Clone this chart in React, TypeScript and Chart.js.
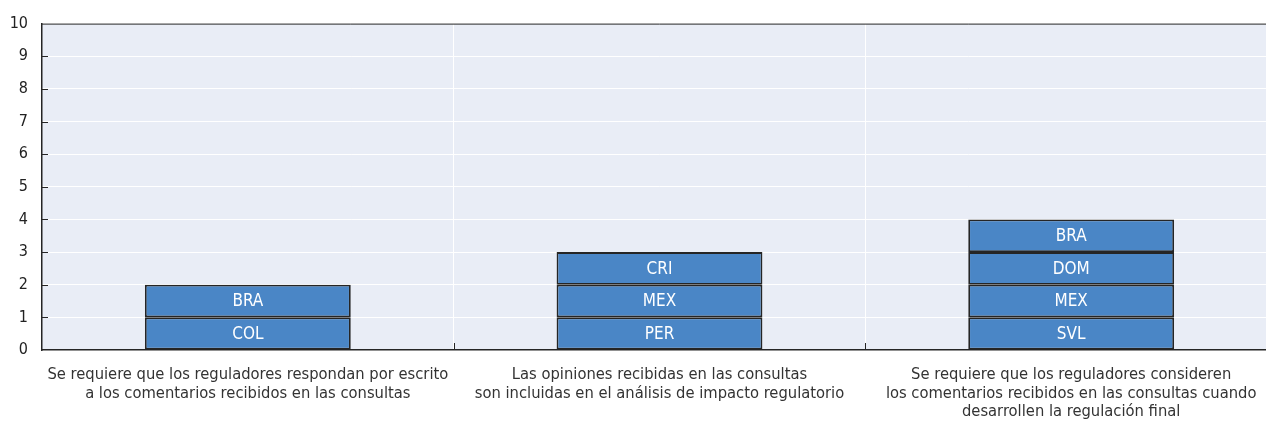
import React, { useEffect, useRef } from "react";
import { Chart, registerables } from "chart.js";

Chart.register(...registerables);

const categories: string[][] = [
  ["Se requiere que los reguladores respondan por escrito", "a los comentarios recibidos en las consultas"],
  ["Las opiniones recibidas en las consultas", "son incluidas en el análisis de impacto regulatorio"],
  ["Se requiere que los reguladores consideren", "los comentarios recibidos en las consultas cuando", "desarrollen la regulación final"],
];

const level1Values: (number | null)[] = [1, 1, 1];
const level1Labels: (string | null)[] = ["COL", "PER", "SVL"];
const level2Values: (number | null)[] = [1, 1, 1];
const level2Labels: (string | null)[] = ["BRA", "MEX", "MEX"];
const level3Values: (number | null)[] = [null, 1, 1];
const level3Labels: (string | null)[] = [null, "CRI", "DOM"];
const level4Values: (number | null)[] = [null, null, 1];
const level4Labels: (string | null)[] = [null, null, "BRA"];

const yTicks = [0, 1, 2, 3, 4, 5, 6, 7, 8, 9, 10];

const FONT = '"Liberation Sans Narrow", "Arial Narrow", "DejaVu Sans Condensed", sans-serif';
const BAR = "#4a86c6";
const EDGE = "#252525";

const segmentLabels = [level1Labels, level2Labels, level3Labels, level4Labels];

const bgPlugin = {
  id: "bgPlugin",
  beforeDraw(chart: any) {
    const { ctx, chartArea } = chart;
    ctx.save();
    ctx.fillStyle = "#e9edf6";
    ctx.fillRect(chartArea.left, chartArea.top, chartArea.right - chartArea.left, chartArea.bottom - chartArea.top);
    ctx.restore();
  },
  afterDraw(chart: any) {
    const { ctx, chartArea, scales } = chart;
    ctx.save();
    ctx.strokeStyle = EDGE;
    ctx.lineWidth = 1;
    ctx.beginPath();
    ctx.moveTo(chartArea.left, chartArea.top + 0.5);
    ctx.lineTo(chartArea.right, chartArea.top + 0.5);
    ctx.stroke();
    yTicks.forEach((v) => {
      if (v === 0 || v === 10) return;
      const y = Math.round(scales.y.getPixelForValue(v)) + 0.5;
      ctx.beginPath();
      ctx.moveTo(chartArea.left, y);
      ctx.lineTo(chartArea.left + 6, y);
      ctx.stroke();
    });
    const n = categories.length;
    for (let i = 1; i < n; i++) {
      const x = Math.round((scales.x.getPixelForValue(i - 1) + scales.x.getPixelForValue(i)) / 2) + 0.5;
      ctx.beginPath();
      ctx.moveTo(x, chartArea.bottom);
      ctx.lineTo(x, chartArea.bottom - 7);
      ctx.stroke();
    }
    ctx.restore();
  },
};

const labelPlugin = {
  id: "labelPlugin",
  afterDatasetsDraw(chart: any) {
    const { ctx } = chart;
    ctx.save();
    ctx.fillStyle = "#ffffff";
    ctx.font = `17px ${FONT}`;
    ctx.textAlign = "center";
    ctx.textBaseline = "middle";
    chart.data.datasets.forEach((ds: any, di: number) => {
      const meta = chart.getDatasetMeta(di);
      meta.data.forEach((el: any, i: number) => {
        const lab = segmentLabels[di][i];
        if (ds.data[i] == null || !lab) return;
        ctx.fillText(lab, el.x, (el.y + el.base) / 2 + 1);
      });
    });
    ctx.restore();
  },
};

export default function App() {
  const ref = useRef<HTMLCanvasElement | null>(null);
  useEffect(() => {
    if (!ref.current) return;
    const mk = (data: (number | null)[]) => ({
      data,
      backgroundColor: BAR,
      borderColor: EDGE,
      borderWidth: 1.8,
      borderSkipped: false,
      categoryPercentage: 1,
      barPercentage: 0.5,
    });
    const chart = new Chart(ref.current, {
      type: "bar",
      data: {
        labels: categories,
        datasets: [mk(level1Values), mk(level2Values), mk(level3Values), mk(level4Values)],
      },
      plugins: [bgPlugin, labelPlugin],
      options: {
        animation: false,
        responsive: false,
        layout: { padding: { top: 22, right: 13, left: 0, bottom: 0 } },
        plugins: { legend: { display: false }, tooltip: { enabled: false } },
        scales: {
          x: {
            stacked: true,
            grid: { color: "#ffffff", lineWidth: 1, drawTicks: false, offset: true },
            border: { color: EDGE, width: 1.5 },
            ticks: {
              color: "#333333",
              font: { family: FONT, size: 16.4, lineHeight: 1.12 },
              padding: 16,
              maxRotation: 0,
              autoSkip: false,
            },
            afterFit(scale: any) {
              scale.height = 74;
            },
          },
          y: {
            stacked: true,
            min: 0,
            max: 10,
            grid: { color: "#ffffff", lineWidth: 1, drawTicks: false },
            border: { color: EDGE, width: 1.5 },
            ticks: {
              stepSize: 1,
              color: "#222222",
              font: { family: FONT, size: 16 },
              padding: 14,
            },
            afterFit(scale: any) {
              scale.width = 42;
            },
          },
        },
      } as any,
    });
    return () => chart.destroy();
  }, []);
  return (
    <div style={{ position: "absolute", left: 0, top: 0, width: 1290, height: 424 }}>
      <canvas ref={ref} width={1290} height={424} />
    </div>
  );
}
